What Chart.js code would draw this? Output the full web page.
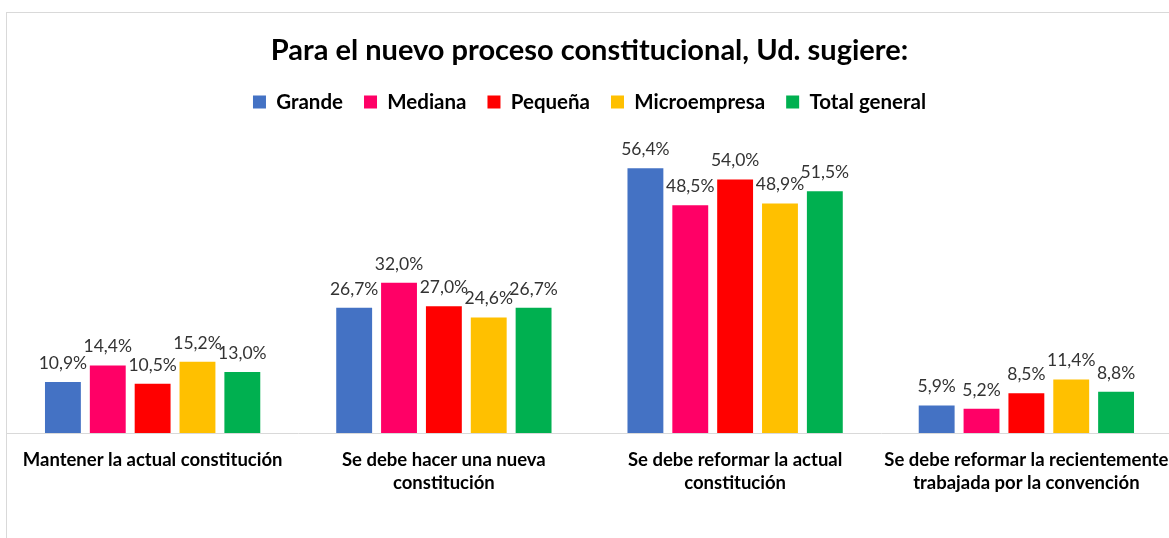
<!DOCTYPE html>
<html>
<head>
<meta charset="utf-8">
<script src="https://cdn.jsdelivr.net/npm/chart.js@4"></script>
<style>
  html, body { margin: 0; padding: 0; background: #fff; overflow: hidden; }
  #frame { position: absolute; left: 6px; top: 12px; width: 1200px; height: 600px; border: 1px solid #d9d9d9; }
  #wrap { position: absolute; left: 0; top: 0; width: 1175px; height: 538px; }
</style>
</head>
<body>
<div id="frame"></div>
<div id="wrap"><canvas id="chart"></canvas></div>
<script>
var categories = [
  "Mantener la actual constitución",
  ["Se debe hacer una nueva", "constitución"],
  ["Se debe reformar la actual", "constitución"],
  ["Se debe reformar la recientemente", "trabajada por la convención"]
];
var grande = [10.9, 26.7, 56.4, 5.9];
var mediana = [14.4, 32.0, 48.5, 5.2];
var pequena = [10.5, 27.0, 54.0, 8.5];
var microempresa = [15.2, 24.6, 48.9, 11.4];
var totalGeneral = [13.0, 26.7, 51.5, 8.8];

var fontFamily = "Lato, 'Open Sans', sans-serif";

// draws the value above each bar
var barLabels = {
  id: 'barLabels',
  afterDatasetsDraw: function (chart) {
    var ctx = chart.ctx;
    ctx.save();
    ctx.font = "17.5px " + fontFamily;
    ctx.fillStyle = "#333333";
    ctx.textAlign = "center";
    ctx.textBaseline = "bottom";
    chart.data.datasets.forEach(function (ds, i) {
      chart.getDatasetMeta(i).data.forEach(function (bar, j) {
        var txt = ds.data[j].toFixed(1).replace(".", ",") + "%";
        ctx.fillText(txt, bar.x, bar.y - 10);
      });
    });
    ctx.restore();
  }
};

// extra room under the legend
var legendSpace = {
  id: 'legendSpace',
  beforeInit: function (chart) {
    var fit = chart.legend.fit;
    chart.legend.fit = function () {
      fit.bind(chart.legend)();
      this.height += 29;
    };
  }
};

function makeSet(label, data, color) {
  return {
    label: label,
    data: data,
    backgroundColor: color,
    borderWidth: 0,
    categoryPercentage: 0.77,
    barPercentage: 0.8
  };
}

var ctx = document.getElementById("chart").getContext('2d');
var chart = new Chart(ctx, {
  type: 'bar',
  data: {
    labels: categories,
    datasets: [
      makeSet("Grande", grande, "#4472C4"),
      makeSet("Mediana", mediana, "#FF0066"),
      makeSet("Pequeña", pequena, "#FF0000"),
      makeSet("Microempresa", microempresa, "#FFC000"),
      makeSet("Total general", totalGeneral, "#00B050")
    ]
  },
  plugins: [legendSpace, barLabels],
  options: {
    responsive: true,
    maintainAspectRatio: false,
    animation: false,
    layout: { padding: { left: 7, right: 3, top: 20, bottom: 36 } },
    plugins: {
      title: {
        display: true,
        text: "Para el nuevo proceso constitucional, Ud. sugiere:",
        color: "#000000",
        font: { family: fontFamily, size: 29, weight: "bold" },
        padding: { top: 13, bottom: 3 }
      },
      legend: {
        display: true,
        labels: {
          color: "#000000",
          boxWidth: 13,
          boxHeight: 13,
          padding: 21,
          font: { family: fontFamily, size: 20.5, weight: "bold" }
        }
      },
      tooltip: { enabled: false }
    },
    scales: {
      x: {
        grid: { display: false },
        border: { display: true, color: "#d9d9d9", width: 1 },
        afterFit: function (scale) {
          scale.paddingLeft = 0;
          scale.paddingRight = 0;
        },
        ticks: {
          color: "#000000",
          autoSkip: false,
          maxRotation: 0,
          padding: 7.5,
          font: { family: fontFamily, size: 18.5, weight: "bold", lineHeight: 1.24 }
        }
      },
      y: {
        display: false,
        min: 0,
        max: 60
      }
    }
  }
});
</script>
</body>
</html>
